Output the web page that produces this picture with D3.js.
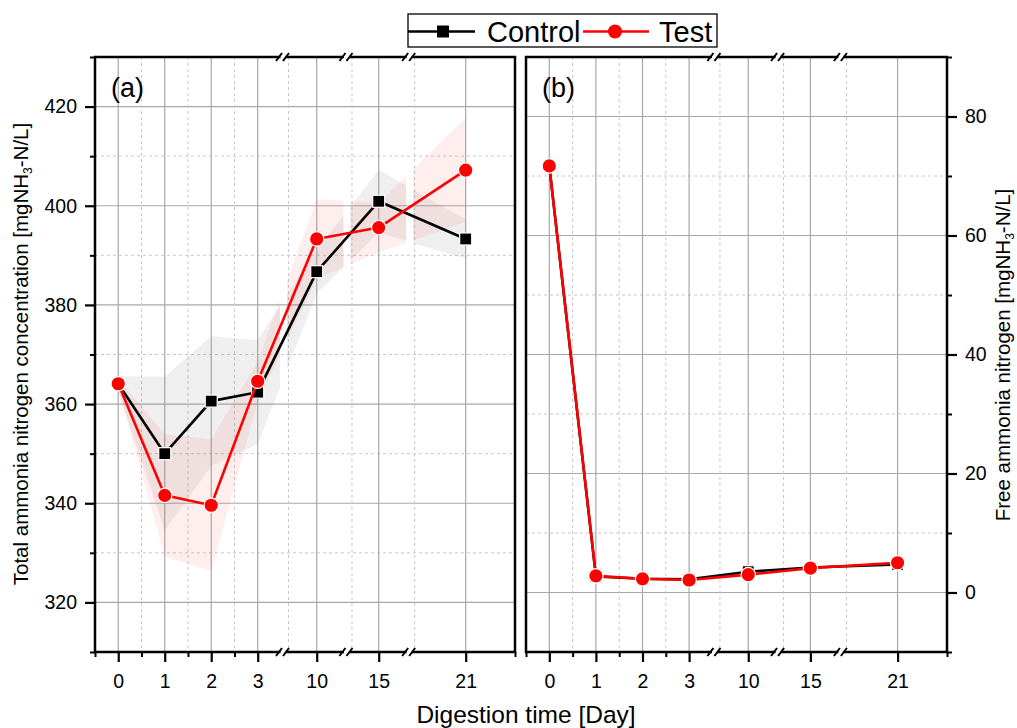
<!DOCTYPE html>
<html><head><meta charset="utf-8">
<script src="https://cdn.jsdelivr.net/npm/d3@7"></script>
<style>
body{margin:0;background:#fff}
text{font-family:"Liberation Sans",Arial,Helvetica,sans-serif;fill:#000}
</style>
</head><body><svg id="c" width="1017" height="728"></svg>
<script>
// ---------------- data ----------------
const days = [0, 1, 2, 3, 10, 15, 21];
const dayLabels = ["0", "1", "2", "3", "10", "15", "21"];
const minorDays = [0.5, 1.5, 2.5];
const breakDays = [6.0, 12.4, 17.1];

const tanControl    = [364.1, 350.0, 360.6, 362.4, 386.7, 400.9, 393.3];
const tanControlErr = [1.5, 15.5, 13.1, 10.5, 4.4, 6.3, 4.0];
const tanTest       = [364.1, 341.6, 339.6, 364.6, 393.3, 395.6, 407.2];
const tanTestErr    = [1.0, 12.3, 13.3, 4.0, 8.0, 5.0, 10.5];

const faControl = [71.7, 2.7, 2.3, 2.2, 3.5, 4.2, 4.7];
const faTest    = [71.7, 2.8, 2.3, 2.1, 3.0, 4.1, 5.0];

const tanTicks = [320, 340, 360, 380, 400, 420];
const tanMinor = [310, 330, 350, 370, 390, 410, 430];
const faTicks  = [0, 20, 40, 60, 80];
const faMinor  = [-10, 10, 30, 50, 70, 90];

const seriesNames = ["Control", "Test"];
const colors = {Control: "#000000", Test: "#ff0000"};

// ---------------- layout ----------------
const svg = d3.select("#c");
const TOP = 57, BOTTOM = 652;
const xDomain = [-0.5, 3, 10, 15, 21, 22];
const xFrac   = [0, 0.3874, 0.5279, 0.6755, 0.8826, 1];
const FONT = "'Liberation Sans',Arial,sans-serif";

function makeX(left, right) {
  return d3.scaleLinear().domain(xDomain).range(xFrac.map(f => left + f * (right - left)));
}

function drawPanel(cfg) {
  const {left, right, y, majorY, minorY, label, axisSide, id} = cfg;
  const x = makeX(left, right);
  const g = svg.append("g");

  // grid
  const grid = g.append("g");
  grid.selectAll(".hmaj").data(majorY).join("line")
    .attr("x1", left).attr("x2", right).attr("y1", d => y(d)).attr("y2", d => y(d))
    .attr("stroke", "#a8a8a8").attr("stroke-width", 1.2);
  grid.selectAll(".hmin").data(minorY).join("line")
    .attr("x1", left).attr("x2", right).attr("y1", d => y(d)).attr("y2", d => y(d))
    .attr("stroke", "#c8c8c8").attr("stroke-width", 1).attr("stroke-dasharray", "3,3");
  grid.selectAll(".vmaj").data(days).join("line")
    .attr("x1", d => x(d)).attr("x2", d => x(d)).attr("y1", TOP).attr("y2", BOTTOM)
    .attr("stroke", "#a8a8a8").attr("stroke-width", 1.2);
  const vminX = minorDays.map(d => x(d)).concat(breakDays.map(d => x(d) + 5.5));
  grid.selectAll(".vmin").data(vminX).join("line")
    .attr("x1", d => d).attr("x2", d => d).attr("y1", TOP).attr("y2", BOTTOM)
    .attr("stroke", "#c8c8c8").attr("stroke-width", 1).attr("stroke-dasharray", "3,3");

  // bands (clipped into segments, gap at the breaks)
  if (cfg.bands) {
    const bx = breakDays.map(d => x(d));
    const segs = [[left, bx[0] - 3], [bx[0] + 4, bx[1] - 3], [bx[1] + 4, bx[2] - 3], [bx[2] + 4, right]];
    const defs = svg.append("defs");
    segs.forEach((s, i) => {
      defs.append("clipPath").attr("id", id + "seg" + i)
        .append("rect").attr("x", s[0]).attr("y", TOP).attr("width", s[1] - s[0]).attr("height", BOTTOM - TOP);
    });
    cfg.bands.forEach(b => {
      const area = d3.area().x((d, i) => x(days[i]))
        .y0((d, i) => y(d - b.err[i])).y1((d, i) => y(d + b.err[i]));
      segs.forEach((s, i) => {
        g.append("path").attr("d", area(b.values)).attr("clip-path", `url(#${id}seg${i})`)
          .attr("fill", b.fill).attr("fill-opacity", b.opacity).attr("stroke", "none");
      });
    });
  }

  // lines + markers
  const line = d3.line().x((d, i) => x(days[i])).y(d => y(d));
  cfg.series.forEach(s => {
    g.append("path").attr("d", line(s.values)).attr("fill", "none")
      .attr("stroke", s.color).attr("stroke-width", 2.6).attr("stroke-linejoin", "round");
    if (s.shape === "square") {
      g.selectAll(null).data(s.values).join("rect")
        .attr("x", (d, i) => x(days[i]) - 6).attr("y", d => y(d) - 6)
        .attr("width", 12).attr("height", 12).attr("fill", s.color)
        .attr("stroke", "#fff").attr("stroke-width", 1.2);
    } else {
      g.selectAll(null).data(s.values).join("circle")
        .attr("cx", (d, i) => x(days[i])).attr("cy", d => y(d)).attr("r", 7.2)
        .attr("fill", s.color).attr("stroke", "#fff").attr("stroke-width", 1.2);
    }
  });

  // frame
  g.append("rect").attr("x", left).attr("y", TOP).attr("width", right - left).attr("height", BOTTOM - TOP)
    .attr("fill", "none").attr("stroke", "#000").attr("stroke-width", 2.5);

  // bottom axis ticks
  const xa = g.append("g").attr("transform", `translate(0,${BOTTOM})`)
    .call(d3.axisBottom(x).tickValues(days).tickFormat((d, i) => dayLabels[i]).tickSize(10).tickPadding(12).tickSizeOuter(0));
  xa.select(".domain").remove();
  xa.selectAll("line").attr("stroke", "#000").attr("stroke-width", 2.2);
  xa.selectAll("text").attr("font-size", "19.5px").attr("font-family", FONT);
  const xm = g.append("g").attr("transform", `translate(0,${BOTTOM})`)
    .call(d3.axisBottom(x).tickValues(minorDays.concat([-0.5, 22])).tickFormat("").tickSize(5).tickSizeOuter(0));
  xm.select(".domain").remove();
  xm.selectAll("line").attr("stroke", "#000").attr("stroke-width", 2);

  // y axis ticks
  const ax = axisSide === "left" ? d3.axisLeft(y) : d3.axisRight(y);
  const ya = g.append("g").attr("transform", `translate(${axisSide === "left" ? left : right},0)`)
    .call(ax.tickValues(majorY).tickSize(10).tickPadding(8).tickSizeOuter(0));
  ya.select(".domain").remove();
  ya.selectAll("line").attr("stroke", "#000").attr("stroke-width", 2.2);
  ya.selectAll("text").attr("font-size", "19.5px").attr("font-family", FONT);
  const ax2 = axisSide === "left" ? d3.axisLeft(y) : d3.axisRight(y);
  const ym = g.append("g").attr("transform", `translate(${axisSide === "left" ? left : right},0)`)
    .call(ax2.tickValues(minorY).tickFormat("").tickSize(5).tickSizeOuter(0));
  ym.select(".domain").remove();
  ym.selectAll("line").attr("stroke", "#000").attr("stroke-width", 2);

  // break marks
  breakDays.forEach(bd => {
    const bxp = x(bd);
    [TOP, BOTTOM].forEach(yy => {
      g.append("rect").attr("x", bxp - 2.5).attr("y", yy - 3).attr("width", 5).attr("height", 6).attr("fill", "#fff");
      [-4, 3].forEach(o => {
        g.append("line").attr("x1", bxp + o - 3).attr("y1", yy + 4).attr("x2", bxp + o + 3).attr("y2", yy - 4)
          .attr("stroke", "#000").attr("stroke-width", 2);
      });
    });
  });

  // panel label
  g.append("text").attr("x", left + 16).attr("y", 97).attr("font-size", "27px").text(label);
  return x;
}

// Panel (a)
const yA = d3.scaleLinear().domain([310, 430]).range([BOTTOM, TOP]);
drawPanel({
  id: "a", left: 95, right: 515, y: yA, majorY: tanTicks, minorY: tanMinor, label: "(a)", axisSide: "left",
  bands: [
    {values: tanControl, err: tanControlErr, fill: "#808080", opacity: 0.13},
    {values: tanTest, err: tanTestErr, fill: "#ff4040", opacity: 0.09}
  ],
  series: [
    {values: tanControl, color: colors.Control, shape: "square"},
    {values: tanTest, color: colors.Test, shape: "circle"}
  ]
});

// Panel (b)
const yB = d3.scaleLinear().domain([-10, 90]).range([BOTTOM, TOP]);
drawPanel({
  id: "b", left: 526, right: 947, y: yB, majorY: faTicks, minorY: faMinor, label: "(b)", axisSide: "right",
  series: [
    {values: faControl, color: colors.Control, shape: "square"},
    {values: faTest, color: colors.Test, shape: "circle"}
  ]
});

// axis titles
svg.append("text").attr("x", 526).attr("y", 723).attr("text-anchor", "middle")
  .attr("font-size", "24.5px").text("Digestion time [Day]");

const yl = svg.append("text").attr("transform", "translate(28,354) rotate(-90)")
  .attr("text-anchor", "middle").attr("font-size", "20.5px");
yl.append("tspan").text("Total ammonia nitrogen concentration [mgNH");
yl.append("tspan").attr("font-size", "12px").attr("baseline-shift", "-30%").text("3");
yl.append("tspan").text("-N/L]");

const yr = svg.append("text").attr("transform", "translate(1010,355) rotate(-90)")
  .attr("text-anchor", "middle").attr("font-size", "20.5px");
yr.append("tspan").text("Free ammonia nitrogen [mgNH");
yr.append("tspan").attr("font-size", "12px").attr("baseline-shift", "-30%").text("3");
yr.append("tspan").text("-N/L]");

// legend
const lg = svg.append("g");
lg.append("rect").attr("x", 408).attr("y", 14).attr("width", 309).attr("height", 33)
  .attr("fill", "#fff").attr("stroke", "#000").attr("stroke-width", 1.3);
const legendItems = [
  {name: seriesNames[0], x0: 408, x1: 475, mx: 443, tx: 487, shape: "square"},
  {name: seriesNames[1], x0: 583, x1: 649, mx: 615, tx: 659, shape: "circle"}
];
legendItems.forEach(it => {
  lg.append("line").attr("x1", it.x0).attr("x2", it.x1).attr("y1", 31.5).attr("y2", 31.5)
    .attr("stroke", colors[it.name]).attr("stroke-width", 2.6);
  if (it.shape === "square") {
    lg.append("rect").attr("x", it.mx - 6).attr("y", 25.5).attr("width", 12).attr("height", 12).attr("fill", colors[it.name]);
  } else {
    lg.append("circle").attr("cx", it.mx).attr("cy", 31.5).attr("r", 7).attr("fill", colors[it.name]);
  }
  lg.append("text").attr("x", it.tx).attr("y", 41.5).attr("font-size", "29px").text(it.name);
});
</script></body></html>
